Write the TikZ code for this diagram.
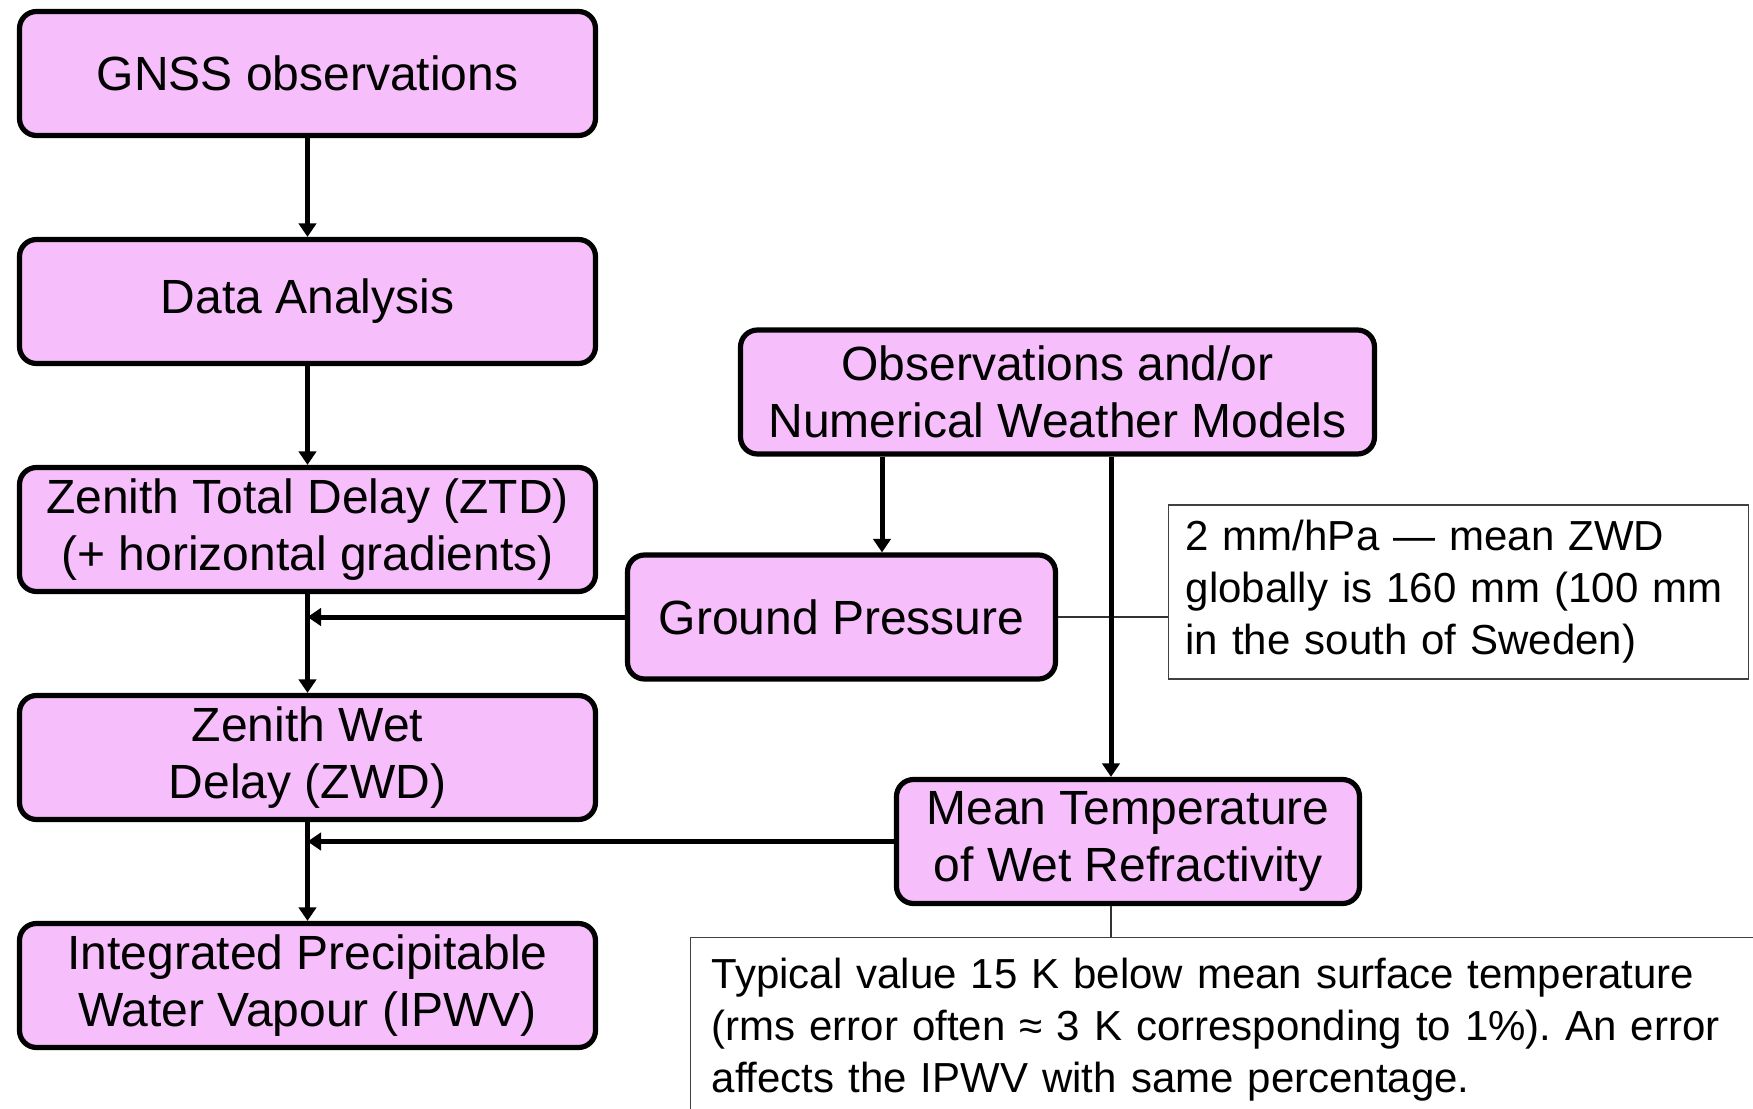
\documentclass[tikz,border=0pt]{standalone}
\usepackage{fontspec}
\setmainfont{Liberation Sans}
\usetikzlibrary{arrows.meta}
\definecolor{boxpink}{RGB}{246,190,250}
\frenchspacing
\begin{document}
\begin{tikzpicture}[x=0.5pt,y=-0.5pt,
  flow/.style={draw=black, line width=2.6pt, fill=boxpink, rounded corners=8.5pt,
    align=center, font=\fontsize{24}{28.4}\selectfont, inner sep=0pt, minimum height=62pt},
  conn/.style={line width=2.5pt, -{Triangle[length=6.8pt,width=8.7pt]}},
  thinline/.style={line width=0.65pt, draw=black!80},
  note/.style={draw=black!75, line width=0.65pt, fill=white, align=left,
    font=\fontsize{21}{26}\selectfont}]
\useasboundingbox (0,0) rectangle (1753,1109);
\clip (0,0) rectangle (1753,1109);
% left column
\node[flow, minimum width=288pt] (gnss) at (307.5,73.5) {GNSS observations};
\node[flow, minimum width=288pt] (da) at (307.5,301.5) {Data Analysis};
\node[flow, minimum width=288pt] (ztd) at (307.5,529.5) {Zenith Total Delay (ZTD)\\(+ horizontal gradients)};
\node[flow, minimum width=288pt] (zwd) at (307.5,757.5) {Zenith Wet\\Delay (ZWD)};
\node[flow, minimum width=288pt] (ipwv) at (307.5,985.5) {Integrated Precipitable\\Water Vapour (IPWV)};
% right part
\node[flow, minimum width=317pt] (obs) at (1057.5,392) {Observations and/or\\Numerical Weather Models};
\node[flow, minimum width=214pt] (gp) at (841.5,617) {Ground Pressure};
\node[flow, minimum width=231.5pt] (mt) at (1128,841.5) {Mean Temperature\\of Wet Refractivity};
% notes
\node[note, anchor=west, minimum height=87pt, text width=273pt, inner xsep=8.5pt] (note1) at (1168,592)
  {2 mm/hPa — mean ZWD\\globally is 160 mm (100 mm\\in the south of Sweden)};
\node[note, anchor=north west, text width=560pt, inner xsep=10.5pt, inner ysep=10pt] (note2) at (690,937)
  {Typical value 15 K below mean surface temperature\\(rms error often ≈ 3 K corresponding to 1\%). An error\\affects the IPWV with same percentage.};
% helper coordinates
\coordinate (c1) at (882,0);
\coordinate (c2) at (1111,0);
% thin connectors
\draw[thinline] (gp.east) -- (gp.east -| note1.west);
\draw[thinline] (c2 |- mt.south) -- (c2 |- note2.north);
% main connectors
\draw[conn] (gnss.south) -- (da.north);
\draw[conn] (da.south) -- (ztd.north);
\draw[conn] (ztd.south) -- (zwd.north);
\draw[conn] (zwd.south) -- (ipwv.north);
\draw[conn] (gp.west) -- (gp.west -| ztd.south);
\draw[conn] (mt.west) -- (mt.west -| zwd.south);
\draw[conn] (c1 |- obs.south) -- (c1 |- gp.north);
\draw[conn] (c2 |- obs.south) -- (c2 |- mt.north);
\end{tikzpicture}
\end{document}
